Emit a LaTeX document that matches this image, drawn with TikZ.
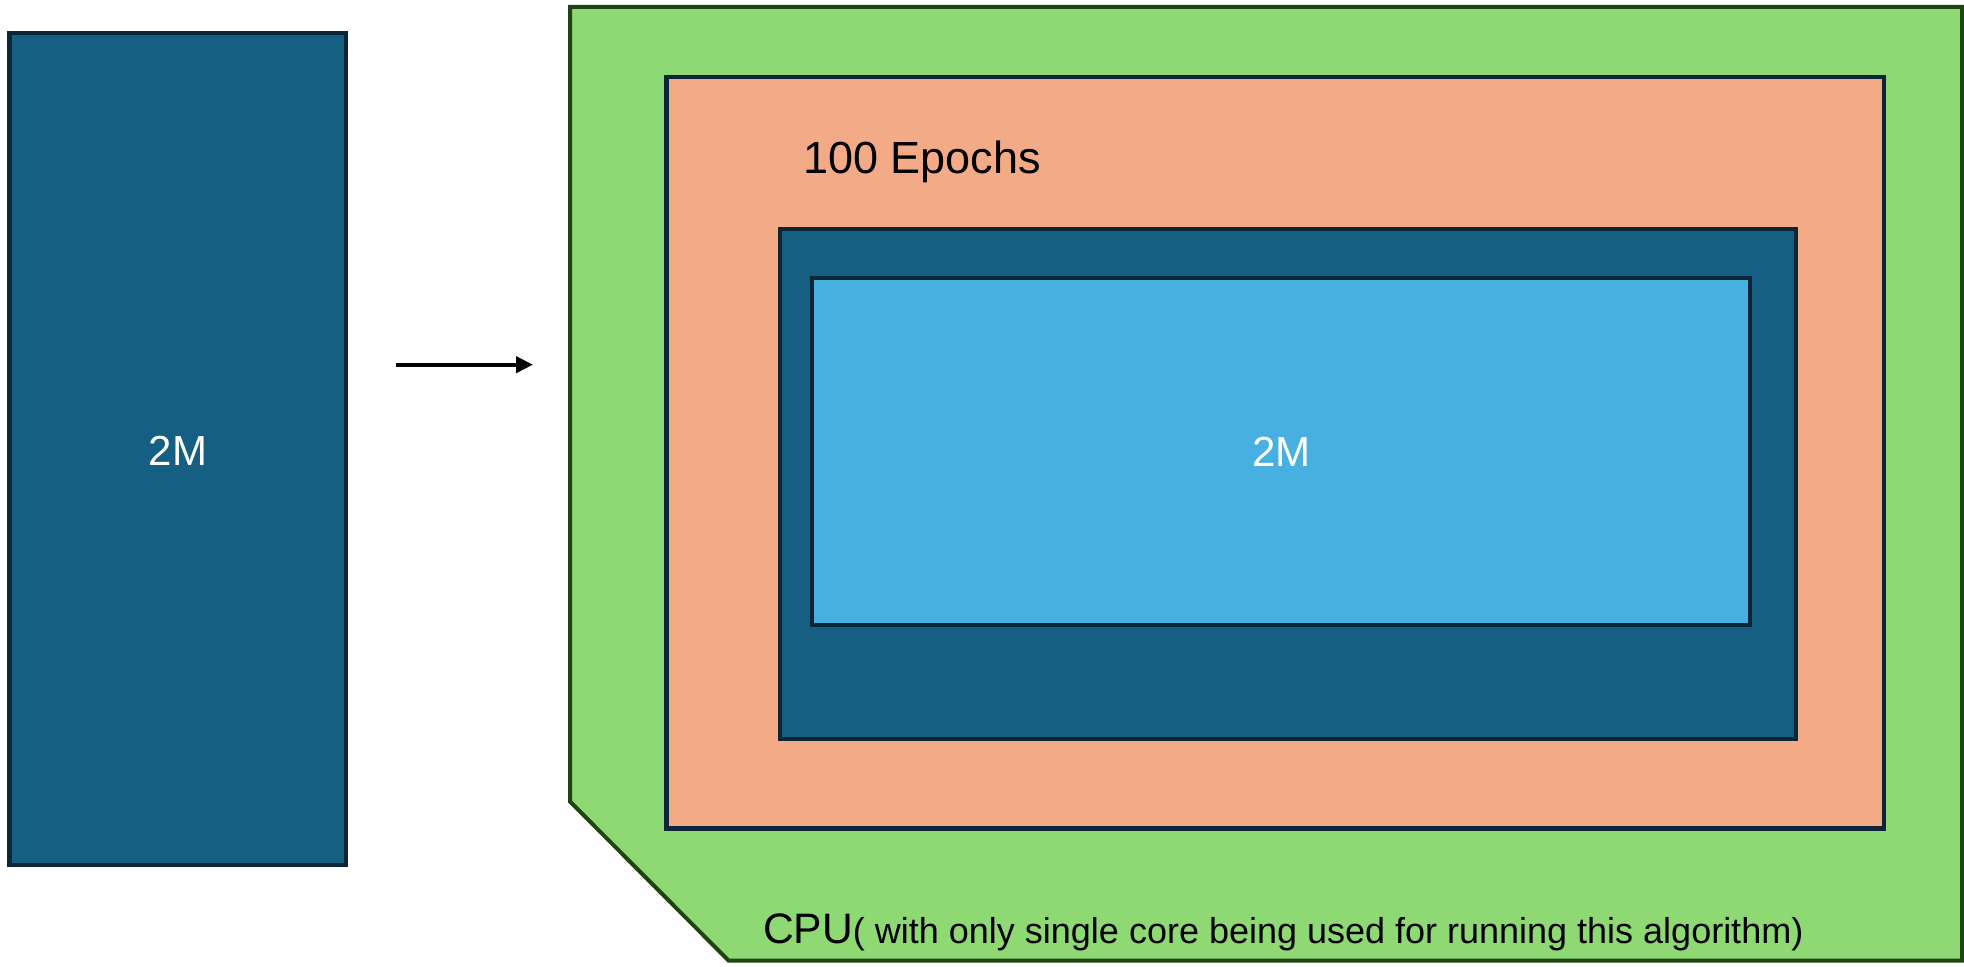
\documentclass[tikz,border=0pt]{standalone}
\usepackage{fontspec}
\setmainfont{Liberation Sans}
\usetikzlibrary{arrows.meta}

\definecolor{tealfill}{HTML}{156082}
\definecolor{navyline}{HTML}{0C2537}
\definecolor{cpugreen}{HTML}{8FD974}
\definecolor{cpuline}{HTML}{1F4612}
\definecolor{epochfill}{HTML}{F2AB86}
\definecolor{skyfill}{HTML}{47B0E0}

\tikzset{
  block/.style={draw=navyline, line width=4.5pt, rectangle, inner sep=0pt, outer sep=0pt},
  label/.style={inner sep=0pt, outer sep=0pt, anchor=base west},
  whitelabel/.style={inner sep=0pt, text=white, font=\fontsize{42}{50}\selectfont},
  flow/.style={line width=4pt, -{Triangle[length=17pt,width=16pt]}},
}

\begin{document}
\begin{tikzpicture}[x=1pt, y=-1pt]
  \useasboundingbox (0,0) rectangle (1964,966);

  % input data block
  \node[block, fill=tealfill, minimum width=336.5pt, minimum height=832pt]
    (data) at (177.75,449) {};
  \node[whitelabel] (datalabel) at (178,451) {2M};

  % arrow towards the CPU
  \coordinate (arrowstart) at (396,364.7);
  \coordinate (arrowend) at (533,364.7);
  \draw[flow] (arrowstart) -- (arrowend);

  % CPU outline with chamfered lower-left corner
  \coordinate (cpuNW) at (570,7);
  \coordinate (cpuNE) at (1962,7);
  \coordinate (cpuSE) at (1962,960.5);
  \coordinate (cpuSW) at (728.5,960.5);
  \coordinate (cpuW) at (570,801.5);
  \draw[cpuline, fill=cpugreen, line width=4pt, line join=miter]
    (cpuNW) -- (cpuNE) -- (cpuSE) -- (cpuSW) -- (cpuW) -- cycle;

  % epoch loop
  \node[block, fill=epochfill, minimum width=1217.5pt, minimum height=751.7pt]
    (epochs) at (1275.25,452.85) {};
  \node[label, font=\fontsize{45}{54}\selectfont] (epochlabel) at (803,173) {100 Epochs};

  % data inside the loop
  \node[block, fill=tealfill, minimum width=1016pt, minimum height=510pt]
    (outer) at (1288,484) {};
  \node[block, fill=skyfill, minimum width=938pt, minimum height=347pt]
    (inner) at (1281,451.5) {};
  \node[whitelabel] (innerlabel) at (1281.5,452) {2M};

  % caption
  \node[label] (cpulabel) at (763,943.3)
    {{\fontsize{42.6}{50}\selectfont CPU}{\fontsize{36}{43}\selectfont( with only single core being used for running this algorithm)}};
\end{tikzpicture}
\end{document}
